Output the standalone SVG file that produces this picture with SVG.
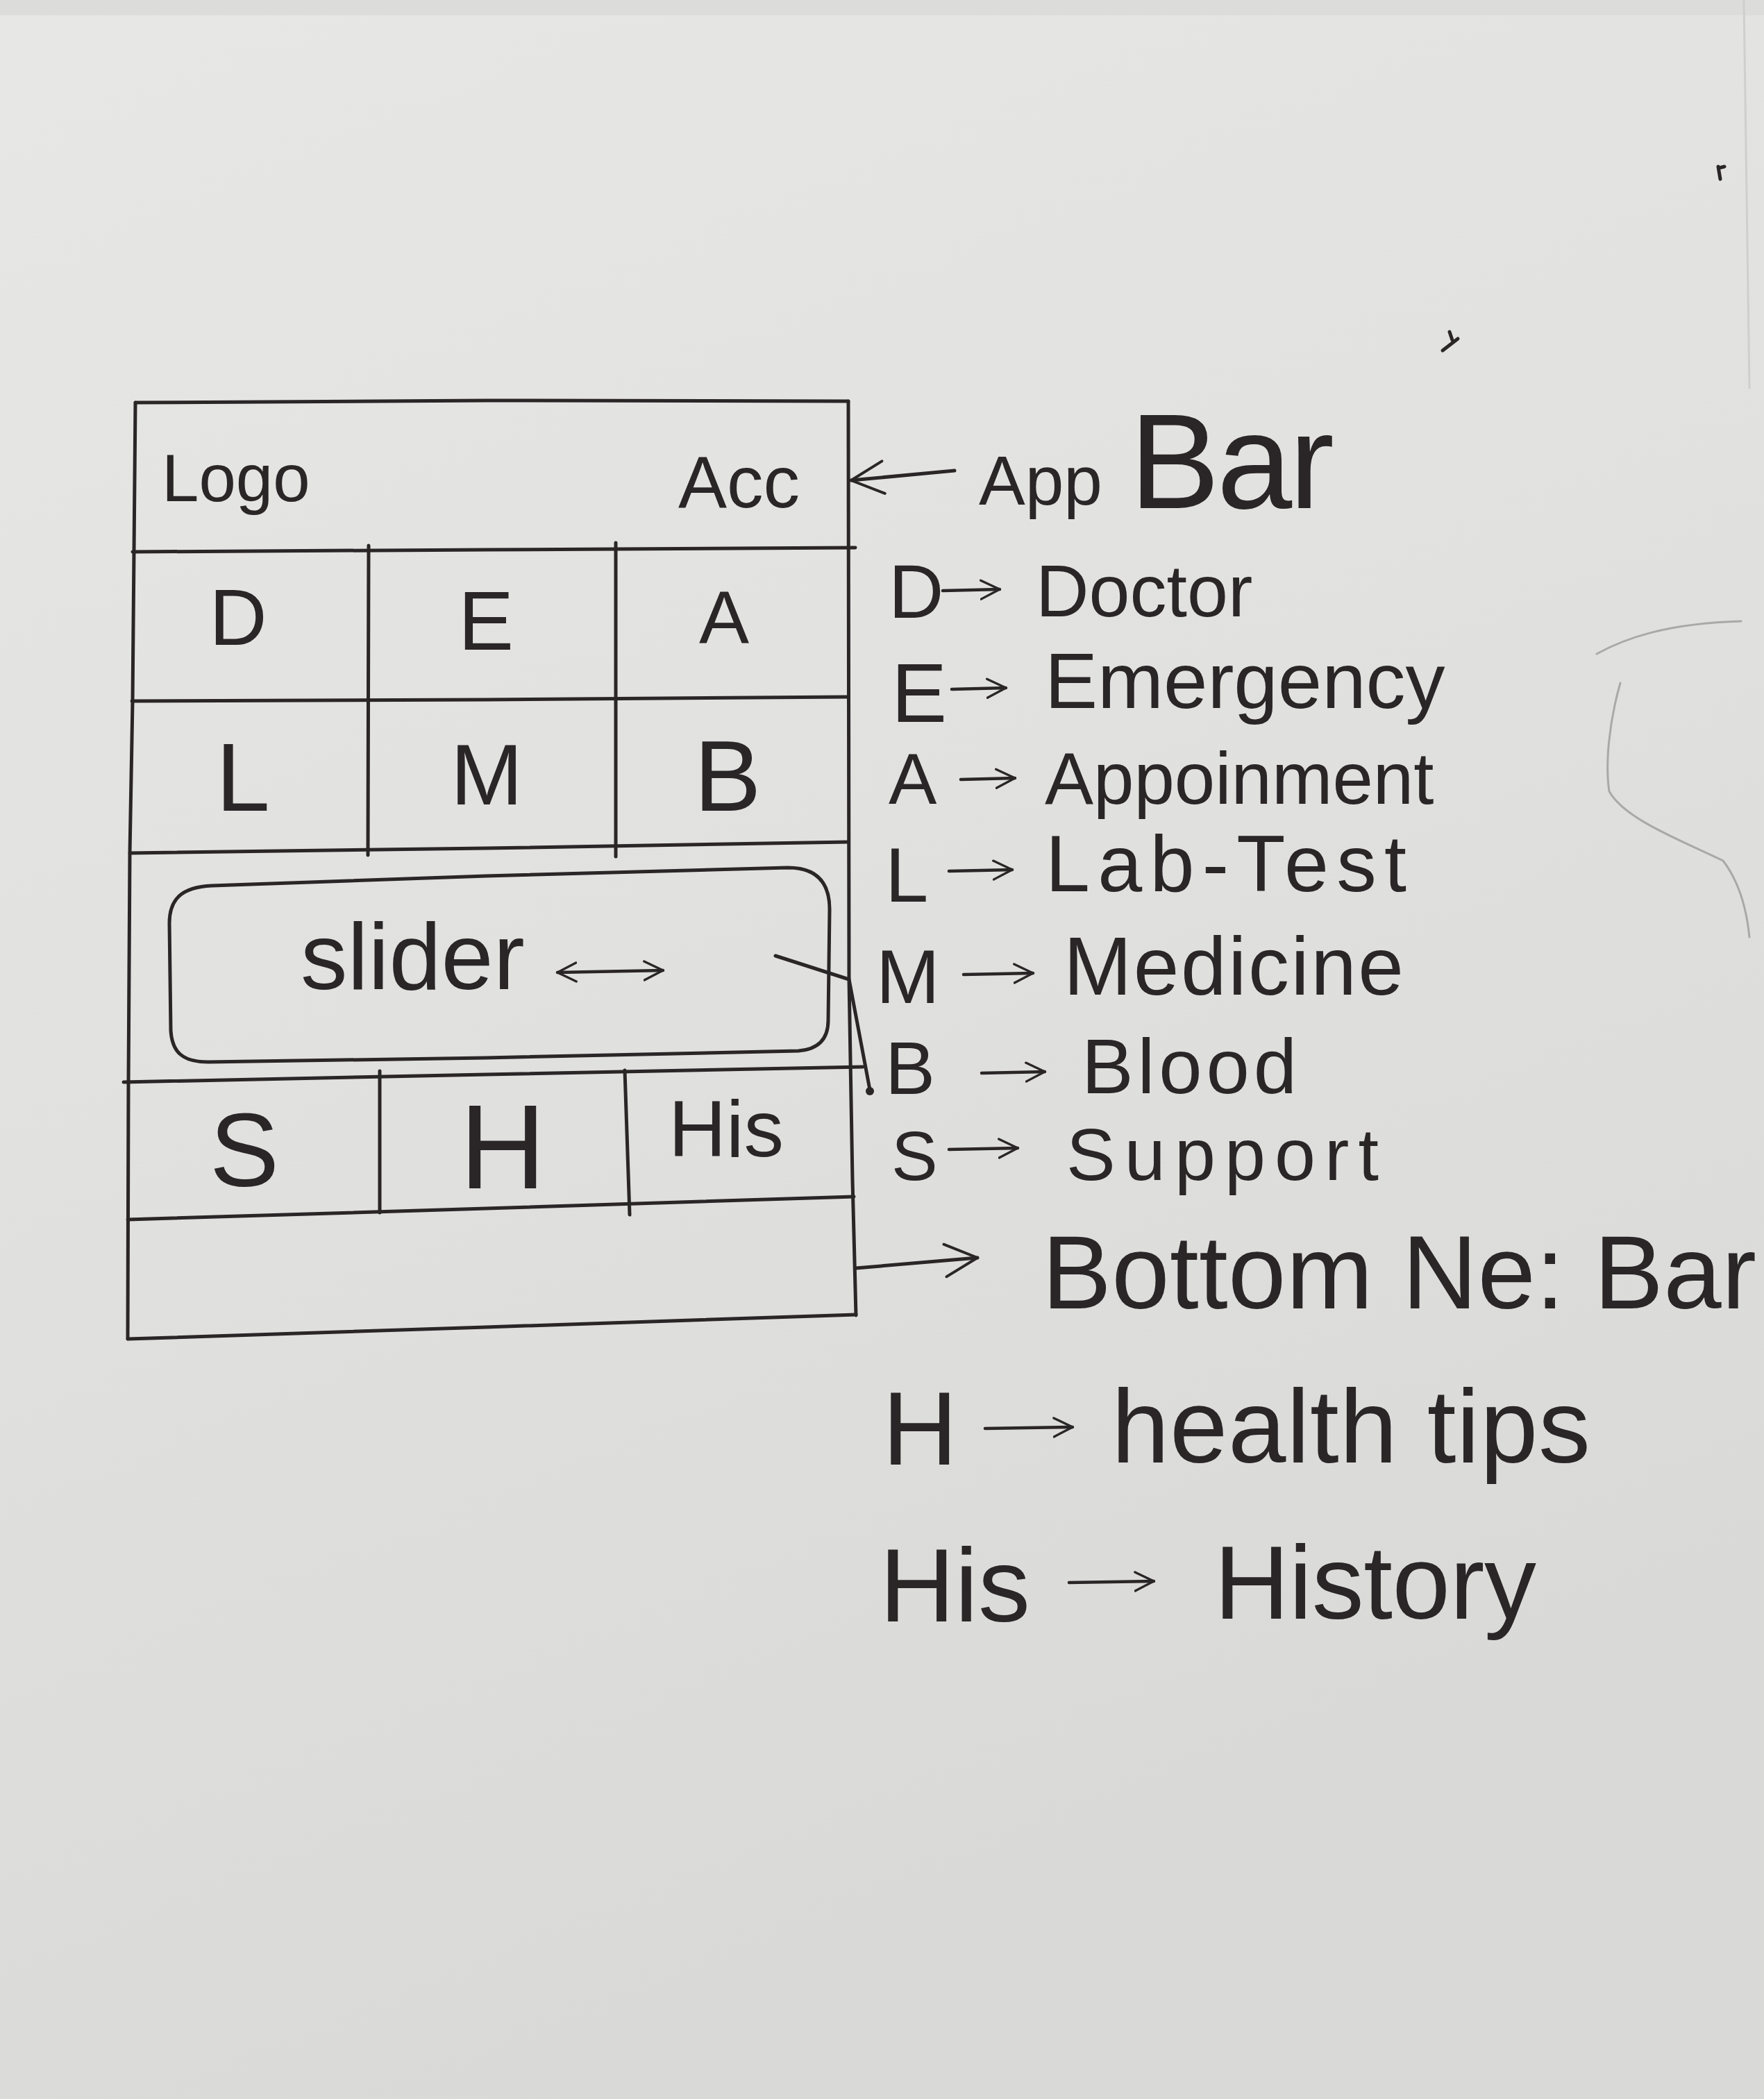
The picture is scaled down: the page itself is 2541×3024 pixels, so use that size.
<svg xmlns="http://www.w3.org/2000/svg" width="2541" height="3024" viewBox="0 0 2541 3024">
  <defs>
    <linearGradient id="paper" x1="0" y1="0" x2="0.35" y2="1">
      <stop offset="0" stop-color="#e7e7e5"/>
      <stop offset="0.5" stop-color="#e1e1df"/>
      <stop offset="1" stop-color="#d9d9d7"/>
    </linearGradient>
    <!-- open pen-style arrowhead -->
    <marker id="head" viewBox="0 0 20 20" refX="19" refY="10" markerWidth="30" markerHeight="36" markerUnits="userSpaceOnUse" orient="auto-start-reverse">
      <path d="M1,1 L19,10 L1,19" fill="none" stroke="#2a2527" stroke-width="2.2" stroke-linecap="round" stroke-linejoin="round"/>
    </marker>
    <marker id="headBig" viewBox="0 0 20 20" refX="19" refY="10" markerWidth="52" markerHeight="64" markerUnits="userSpaceOnUse" orient="auto-start-reverse">
      <path d="M1,1 L19,10 L1,19" fill="none" stroke="#2a2527" stroke-width="1.5" stroke-linecap="round" stroke-linejoin="round"/>
    </marker>
    <style>
      .ink { fill: none; stroke: #2a2527; stroke-width: 5; stroke-linecap: round; stroke-linejoin: round; }
      .pencil { fill: none; stroke: #a9a9a7; stroke-width: 3; stroke-linecap: round; }
      .t { font-family: "Liberation Sans", "DejaVu Sans", sans-serif; fill: #2a2527; }
      .c { text-anchor: middle; }
      .arr { fill: none; stroke: #2a2527; stroke-width: 4.5; stroke-linecap: round; marker-end: url(#head); }
    </style>
  </defs>

  <!-- paper -->
  <rect x="0" y="0" width="2541" height="3024" fill="url(#paper)"/>
  <rect x="0" y="0" width="2541" height="22" fill="#dcdcdb"/>
  <line x1="2512" y1="0" x2="2520" y2="560" stroke="#cfcfcd" stroke-width="3"/>

  <!-- faint pencil marks on the right margin -->
  <path class="pencil" d="M2300,942 C2340,920 2400,898 2508,895"/>
  <path class="pencil" d="M2334,984 C2318,1040 2312,1100 2318,1140 C2340,1180 2420,1210 2482,1240 C2505,1270 2516,1310 2520,1350"/>
  <path class="ink" d="M2078,505 L2100,488 M2088,478 L2092,490" stroke-width="4"/>
  <path class="ink" d="M2475,240 L2478,258 M2476,242 L2484,240" stroke-width="4"/>

  <!-- phone frame -->
  <g id="frame">
    <path class="ink" d="M195,580 L700,577 L1222,578"/>
    <path class="ink" d="M195,580 L191,1010 L187,1229 L185,1560 L184,1929"/>
    <path class="ink" d="M1222,578 L1223,1411 L1228,1700 L1233,1895"/>
    <path class="ink" d="M184,1929 L700,1912 L1233,1894"/>
  </g>

  <!-- app bar -->
  <g id="app-bar">
    <path class="ink" d="M191,795 L700,792 L1232,789"/>
    <text class="t" x="233" y="722" font-size="96">Logo</text>
    <text class="t" x="977" y="731" font-size="105">Acc</text>
  </g>

  <!-- category grid -->
  <g id="grid">
    <path class="ink" d="M190,1010 L700,1008 L1222,1004"/>
    <path class="ink" d="M187,1229 L700,1222 L1222,1213"/>
    <path class="ink" d="M531,786 L530,1232"/>
    <path class="ink" d="M887,782 L887,1234"/>
  </g>
  <g id="cell-d"><text class="t c" x="343" y="929" font-size="115">D</text></g>
  <g id="cell-e"><text class="t c" x="700" y="936" font-size="120">E</text></g>
  <g id="cell-a"><text class="t c" x="1043" y="927" font-size="108">A</text></g>
  <g id="cell-l"><text class="t c" x="350" y="1168" font-size="140">L</text></g>
  <g id="cell-m"><text class="t c" x="701" y="1159" font-size="125">M</text></g>
  <g id="cell-b"><text class="t c" x="1048" y="1168" font-size="145">B</text></g>

  <!-- slider -->
  <g id="slider">
    <path class="ink" d="M305,1276 L700,1262 L1135,1250 C1180,1250 1195,1275 1195,1310 L1193,1470 C1193,1500 1175,1512 1150,1514 L700,1524 L300,1530 C262,1530 248,1515 246,1485 L244,1330 C244,1295 262,1278 305,1276 Z"/>
    <text class="t" x="433" y="1425" font-size="135">slider</text>
    <path class="arr" d="M803,1401 L955,1398" marker-start="url(#head)"/>
  </g>

  <!-- quick access row -->
  <g id="quick-row">
    <path class="ink" d="M178,1559 L700,1548 L1243,1537"/>
    <path class="ink" d="M184,1757 L700,1741 L1230,1724"/>
    <path class="ink" d="M547,1543 L547,1747"/>
    <path class="ink" d="M900,1542 L907,1750"/>
  </g>
  <g id="cell-s"><text class="t c" x="352" y="1709" font-size="150">S</text></g>
  <g id="cell-h"><text class="t c" x="724" y="1712" font-size="172">H</text></g>
  <g id="cell-his"><text class="t" x="963" y="1666" font-size="115">His</text></g>

  <!-- connectors -->
  <g id="connectors">
    <path class="ink" d="M1375,678 L1226,692" marker-end="url(#headBig)"/>
    <path class="ink" d="M1117,1377 L1223,1411 L1253,1570"/>
    <circle cx="1253" cy="1572" r="6" fill="#2a2527"/>
    <path class="ink" d="M1233,1827 L1408,1812" marker-end="url(#headBig)"/>
  </g>

  <!-- legend -->
  <g id="legend-appbar">
    <text class="t" x="1410" y="727" font-size="100">App</text>
    <text class="t" x="1627" y="732" font-size="195" textLength="295">Bar</text>
  </g>
  <g id="legend-d">
    <text class="t" x="1280" y="890" font-size="110">D</text>
    <path class="arr" d="M1358,851 L1440,849"/>
    <text class="t" x="1492" y="888" font-size="106">Doctor</text>
  </g>
  <g id="legend-e">
    <text class="t" x="1284" y="1040" font-size="120">E</text>
    <path class="arr" d="M1371,993 L1449,991"/>
    <text class="t" x="1505" y="1020" font-size="114">Emergency</text>
  </g>
  <g id="legend-a">
    <text class="t" x="1280" y="1158" font-size="104">A</text>
    <path class="arr" d="M1384,1123 L1462,1121"/>
    <text class="t" x="1505" y="1158" font-size="105">Appoinment</text>
  </g>
  <g id="legend-l">
    <text class="t" x="1275" y="1299" font-size="112">L</text>
    <path class="arr" d="M1367,1255 L1458,1253"/>
    <text class="t" x="1506" y="1284" font-size="115" textLength="520">Lab-Test</text>
  </g>
  <g id="legend-m">
    <text class="t" x="1262" y="1445" font-size="110">M</text>
    <path class="arr" d="M1388,1404 L1488,1402"/>
    <text class="t" x="1532" y="1433" font-size="118" textLength="490">Medicine</text>
  </g>
  <g id="legend-b">
    <text class="t" x="1275" y="1576" font-size="108">B</text>
    <path class="arr" d="M1414,1546 L1505,1544"/>
    <text class="t" x="1558" y="1575" font-size="112" textLength="310">Blood</text>
  </g>
  <g id="legend-s">
    <text class="t" x="1284" y="1700" font-size="100">S</text>
    <path class="arr" d="M1367,1656 L1466,1654"/>
    <text class="t" x="1536" y="1700" font-size="106" textLength="450">Support</text>
  </g>
  <g id="legend-bottom">
    <text class="t" x="1501" y="1885" font-size="150" textLength="1029">Bottom Ne: Bar</text>
  </g>
  <g id="legend-h">
    <text class="t" x="1271" y="2110" font-size="150">H</text>
    <path class="arr" d="M1419,2058 L1545,2056"/>
    <text class="t" x="1601" y="2107" font-size="150" textLength="690">health tips</text>
  </g>
  <g id="legend-his">
    <text class="t" x="1267" y="2336" font-size="150" textLength="217">His</text>
    <path class="arr" d="M1540,2280 L1662,2278"/>
    <text class="t" x="1749" y="2332" font-size="150" textLength="464">History</text>
  </g>
</svg>
